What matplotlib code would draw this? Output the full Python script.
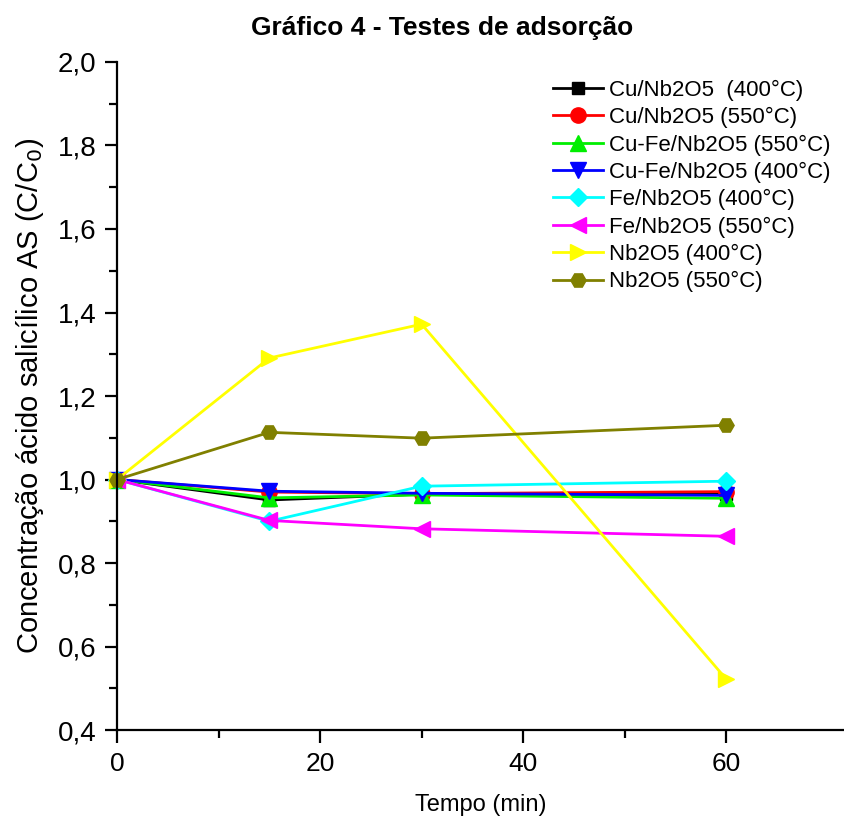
import numpy as np
import matplotlib.pyplot as plt
from matplotlib.ticker import MultipleLocator, FixedLocator, FuncFormatter

plt.rcParams['font.family'] = ['Liberation Sans', 'DejaVu Sans']

# Dados (tempo em min, C/C0)
tempo = [0, 15, 30, 60]
nomes = ['Cu/Nb2O5  (400°C)', 'Cu/Nb2O5 (550°C)', 'Cu-Fe/Nb2O5 (550°C)',
         'Cu-Fe/Nb2O5 (400°C)', 'Fe/Nb2O5 (400°C)', 'Fe/Nb2O5 (550°C)',
         'Nb2O5 (400°C)', 'Nb2O5 (550°C)']
cu_400    = [1.0, 0.951, 0.965, 0.965]
cu_550    = [1.0, 0.970, 0.966, 0.971]
cufe_550  = [1.0, 0.956, 0.963, 0.955]
cufe_400  = [1.0, 0.972, 0.967, 0.962]
fe_400    = [1.0, 0.900, 0.984, 0.996]
fe_550    = [1.0, 0.902, 0.882, 0.864]
nb_400    = [1.0, 1.291, 1.372, 0.522]
nb_550    = [1.0, 1.113, 1.099, 1.130]
series = [cu_400, cu_550, cufe_550, cufe_400, fe_400, fe_550, nb_400, nb_550]

cores = ['#000000', '#ff0000', '#00ee00', '#0000ff', '#00ffff', '#ff00ff', '#ffff00', '#808000']
marc = ['s', 'o', '^', 'v', 'D', '<', '>', 'H']
tam = [9, 11, 11, 11, 9, 11, 11, 11]

fig = plt.figure(figsize=(8.45, 8.21), dpi=100)
ax = fig.add_axes([0.1385, 0.1108, 0.8615, 0.8137])

for s, n, c, m, t in zip(series, nomes, cores, marc, tam):
    ax.plot(tempo, s, color=c, marker=m, markersize=t, lw=2.0, label=n, clip_on=False)

ax.set_xlim(0, 71.7); ax.set_ylim(0.4, 2.0)
ax.xaxis.set_major_locator(FixedLocator([0, 20, 40, 60])); ax.xaxis.set_minor_locator(FixedLocator([10, 30, 50]))
ax.yaxis.set_major_locator(MultipleLocator(0.2)); ax.yaxis.set_minor_locator(MultipleLocator(0.1))
ax.yaxis.set_major_formatter(FuncFormatter(lambda v, p: f'{v:.1f}'.replace('.', ',')))
for sp in ['top', 'right']: ax.spines[sp].set_visible(False)
for sp in ['left', 'bottom']: ax.spines[sp].set_linewidth(1.6)
ax.tick_params(which='major', direction='out', length=9, width=1.6)
ax.tick_params(which='minor', direction='out', length=5.5, width=1.6)
ax.tick_params(axis='x', labelsize=19, pad=7)
ax.tick_params(axis='y', labelsize=20, pad=6)

ax.set_xlabel('Tempo (min)', fontsize=17, labelpad=13)
ax.set_ylabel('Concentração ácido salicílico AS (C/C$_0$)', fontsize=21, labelpad=8)
fig.text(0.523, 0.966, 'Gráfico 4 - Testes de adsorção', ha='center', va='center',
         fontsize=19, weight='bold')

ax.legend(loc='upper right', bbox_to_anchor=(1.005, 1.0), frameon=False, fontsize=16,
          handlelength=2.25, handletextpad=0.3, labelspacing=0.28, markerscale=1.0,
          borderpad=0.3)

fig.savefig('out.png', dpi=100)
